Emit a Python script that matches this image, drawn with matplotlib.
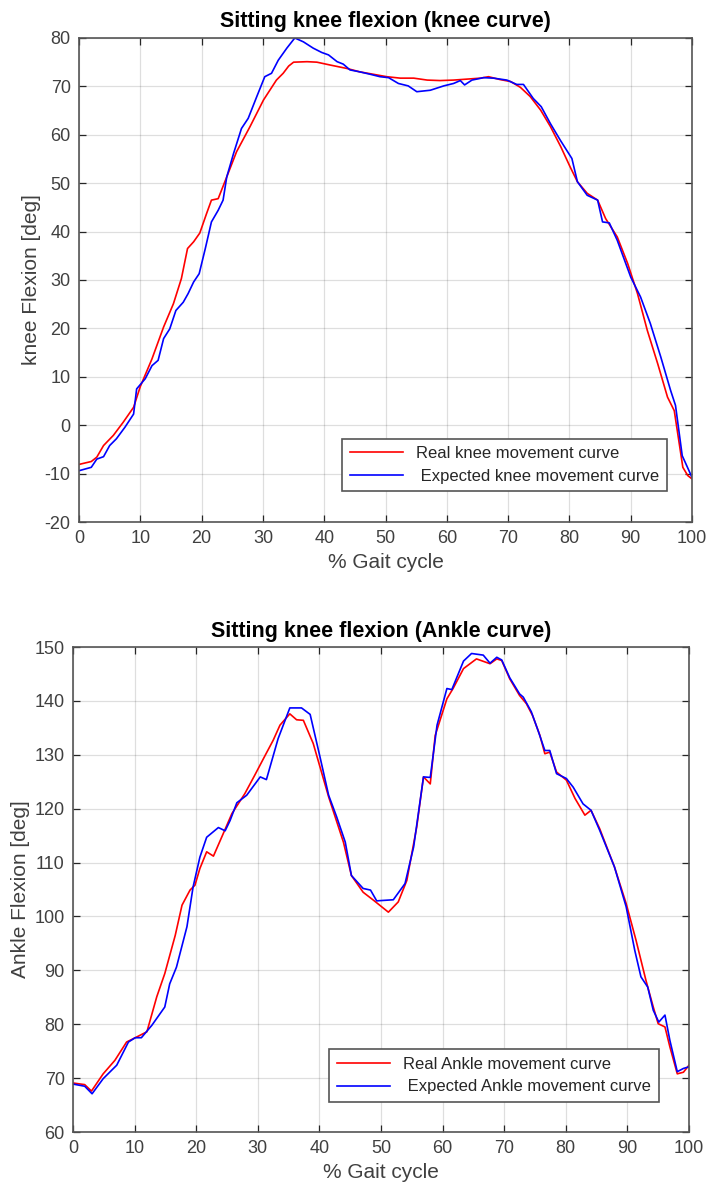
import matplotlib
matplotlib.use('Agg')
import matplotlib.pyplot as plt

plt.rcParams['font.family'] = ['Liberation Sans', 'DejaVu Sans']
plt.rcParams['axes.unicode_minus'] = False

# ---- knee curve (% gait cycle, degrees) ----
knee_real_x = [0, 2, 2.9, 4, 5.6, 7.2, 8.9, 10, 11.9, 13.8, 15.4, 16.7, 17.7, 18.7,
               19.7, 20.8, 21.6, 22.7, 24.1, 25.7, 27.9, 30.1, 32.2, 33.3, 34.2, 35,
               37.2, 38.8, 41, 43.7, 45.8, 48, 50.2, 52.4, 54.6, 56.8, 58.9, 61.1,
               63.3, 65.5, 66.8, 68.7, 70.4, 72, 73.6, 75.3, 76.9, 78.6, 80.1, 81.3,
               82.9, 84.6, 85.9, 87.8, 89.5, 91.1, 92.7, 94.4, 96, 97.1, 98.5, 99.3, 100]
knee_real = [-8.1, -7.5, -6.6, -4.2, -2.1, 0.6, 3.7, 8.0, 13.7, 20.3, 25.1, 30.3, 36.5, 37.9,
             39.7, 43.7, 46.5, 46.8, 51.3, 56.5, 61.7, 67.2, 71.3, 72.7, 74.2, 75.0,
             75.1, 75.0, 74.4, 73.7, 73.0, 72.5, 72.0, 71.7, 71.7, 71.3, 71.2, 71.3,
             71.5, 71.7, 72.0, 71.4, 71.0, 69.8, 67.9, 65.1, 61.7, 57.5, 53.4, 50.3,
             47.9, 46.5, 42.7, 38.9, 33.4, 27.2, 19.6, 12.7, 5.8, 3.0, -8.7, -10.4, -11.1]

knee_exp_x = [0, 2, 2.9, 4, 5, 6.1, 7.5, 8.9, 9.4, 10.8, 11.9, 12.9, 13.8, 14.8, 15.8, 17,
              17.8, 18.7, 19.6, 20.6, 21.6, 22.7, 23.5, 24.1, 25.2, 26.5, 27.6, 29, 30.3,
              31.4, 32.5, 33.9, 35.2, 36.6, 38.2, 39.6, 40.7, 42.1, 43.1, 44.2, 45.8,
              47.5, 49.1, 50.5, 52.1, 53.7, 55.1, 57.3, 59.5, 61.1, 62.2, 62.9, 64.1, 66,
              67.6, 69.8, 71.4, 72.5, 74.1, 75.4, 76.9, 78.5, 80.4, 81.3, 82.9, 84.6,
              85.4, 86.5, 87.8, 90, 91.6, 93.2, 94.9, 96.5, 97.3, 98.4, 100]
knee_exp = [-9.4, -8.7, -7.0, -6.5, -4.2, -2.8, -0.4, 2.3, 7.5, 9.6, 12.3, 13.4, 17.9, 19.9,
            23.7, 25.4, 27.2, 29.6, 31.3, 36.5, 42.0, 44.4, 46.5, 51.3, 56.1, 61.3, 63.4,
            67.9, 72.0, 72.7, 75.4, 77.9, 80.0, 79.2, 77.9, 77.0, 76.5, 75.1, 74.6, 73.4,
            73.0, 72.5, 72.0, 71.8, 70.6, 70.1, 68.9, 69.2, 70.1, 70.6, 71.2, 70.3, 71.3,
            71.8, 71.7, 71.3, 70.4, 70.4, 67.5, 65.8, 62.3, 58.9, 55.1, 50.3, 47.5, 46.5,
            42.0, 41.8, 38.2, 30.6, 26.5, 21.0, 14.1, 7.2, 4.1, -6.3, -10.8]

# ---- ankle curve ----
ankle_real_x = [0, 1.9, 3.0, 4.9, 6.8, 8.7, 10.1, 12.0, 13.6, 14.9, 16.6, 17.7, 19.0, 19.8,
                20.6, 21.7, 22.8, 24.4, 25.8, 27.9, 29.5, 31.2, 32.5, 33.6, 35.2, 36.3,
                37.4, 39.0, 41.5, 43.9, 45.2, 47.1, 48.8, 51.2, 52.8, 54.2, 55.8, 56.9,
                58.0, 58.8, 60.7, 61.7, 63.4, 65.5, 67.7, 68.8, 69.6, 70.9, 72.5, 73.6,
                74.6, 75.8, 76.6, 77.4, 78.5, 80.1, 81.5, 83.1, 84.1, 85.5, 87.9, 89.8,
                91.4, 93.0, 94.2, 95.0, 96.1, 96.9, 98.1, 99.1, 100]
ankle_real = [69.1, 68.8, 67.6, 70.8, 73.3, 76.7, 77.5, 78.6, 85.1, 89.4, 96.5, 102.1, 104.9,
              105.8, 108.9, 112.0, 111.2, 115.4, 119.1, 122.8, 126.2, 129.9, 132.7, 135.5,
              137.6, 136.5, 136.4, 132.1, 122.2, 113.8, 107.6, 104.5, 103.0, 100.8, 102.7,
              106.7, 116.6, 125.9, 124.6, 133.6, 140.4, 142.3, 146.0, 147.8, 146.9, 147.8,
              147.5, 144.1, 141.0, 139.5, 137.3, 133.6, 130.2, 130.5, 126.8, 125.3, 121.9,
              118.8, 119.7, 116.3, 109.2, 102.4, 95.6, 88.2, 83.2, 80.1, 79.5, 75.8, 70.8,
              71.1, 72.4]

ankle_exp_x = [0, 1.9, 3.1, 4.9, 7.1, 9.0, 10.1, 11.1, 12.8, 14.9, 15.7, 16.8, 18.5, 19.5,
               20.6, 21.7, 23.6, 24.7, 25.5, 26.6, 28.2, 30.4, 31.4, 33.3, 35.2, 37.1,
               38.5, 40.1, 41.5, 42.8, 44.2, 45.2, 47.1, 48.3, 49.3, 52.0, 53.9, 55.3,
               56.9, 58.0, 59.1, 60.7, 61.5, 63.4, 64.7, 66.6, 67.7, 68.8, 69.6, 70.9,
               72.5, 73.1, 74.4, 75.5, 76.6, 77.4, 78.5, 80.1, 81.2, 82.8, 84.1, 85.5,
               87.9, 89.8, 91.2, 92.2, 93.3, 94.2, 95.1, 96.1, 96.9, 98.1, 99.1, 100]
ankle_exp = [68.9, 68.5, 67.1, 69.9, 72.4, 76.7, 77.5, 77.5, 79.8, 83.2, 87.5, 90.6, 98.1,
             105.5, 111.0, 114.7, 116.5, 115.9, 117.8, 121.1, 122.5, 125.9, 125.4, 133.0,
             138.7, 138.7, 137.5, 129.6, 122.5, 118.5, 113.8, 107.6, 105.2, 104.9, 102.9,
             103.1, 106.1, 112.9, 125.9, 125.8, 135.5, 142.3, 142.1, 147.4, 148.8, 148.5,
             147.0, 148.1, 147.6, 144.3, 141.3, 140.7, 138.0, 134.5, 130.8, 130.8, 126.5,
             125.6, 124.0, 120.9, 119.7, 116.0, 109.2, 101.8, 93.7, 88.8, 86.9, 82.6, 80.4,
             81.7, 77.0, 71.2, 71.8, 72.1]

TXT_COLOR = '#404040'


def style_axes(ax, ylim, yticks):
    ax.set_xlim(0, 100)
    ax.set_ylim(*ylim)
    ax.set_xticks(range(0, 101, 10))
    ax.set_yticks(yticks)
    ax.grid(True, color='#000000', alpha=0.13, linewidth=0.9)
    ax.set_axisbelow(True)
    ax.tick_params(direction='in', top=True, right=True, length=5, width=0.9,
                   colors='#262626', labelsize=13, labelcolor=TXT_COLOR, pad=6)
    for s in ax.spines.values():
        s.set_color('#555555')
        s.set_linewidth(1.2)


def add_legend(ax, anchor):
    leg = ax.legend(loc='lower right', bbox_to_anchor=anchor, borderaxespad=0,
                    fancybox=False, fontsize=12, handlelength=3.2, framealpha=1,
                    edgecolor='#555555', borderpad=0.45, labelspacing=0.45,
                    handletextpad=0.8)
    leg.get_frame().set_linewidth(1.2)
    for t in leg.get_texts():
        t.set_color('#262626')


fig = plt.figure(figsize=(7.1, 11.94), dpi=100)

# knee
ax1 = fig.add_axes([0.1113, 0.5628, 0.8634, 0.4054])
ax1.plot(knee_real_x, knee_real, color='#ff0000', lw=1.2, label='Real knee movement curve')
ax1.plot(knee_exp_x, knee_exp, color='#0000ff', lw=1.2, label=' Expected knee movement curve')
style_axes(ax1, (-20, 80), range(-20, 81, 10))
ax1.set_title('Sitting knee flexion (knee curve)', fontsize=15.5, fontweight='bold', pad=8)
ax1.set_xlabel('% Gait cycle', fontsize=15, color=TXT_COLOR, labelpad=4)
ax1.set_ylabel('knee Flexion [deg]', fontsize=15, color=TXT_COLOR, labelpad=3)
add_legend(ax1, (0.959, 0.064))

# ankle
ax2 = fig.add_axes([0.1028, 0.0519, 0.8676, 0.4062])
ax2.plot(ankle_real_x, ankle_real, color='#ff0000', lw=1.2, label='Real Ankle movement curve')
ax2.plot(ankle_exp_x, ankle_exp, color='#0000ff', lw=1.2, label=' Expected Ankle movement curve')
style_axes(ax2, (60, 150), range(60, 151, 10))
ax2.set_title('Sitting knee flexion (Ankle curve)', fontsize=15.5, fontweight='bold', pad=7)
ax2.set_xlabel('% Gait cycle', fontsize=15, color=TXT_COLOR, labelpad=4)
ax2.set_ylabel('Ankle Flexion [deg]', fontsize=15, color=TXT_COLOR, labelpad=3)
add_legend(ax2, (0.951, 0.062))

fig.savefig('out.png', dpi=100, facecolor='white')
